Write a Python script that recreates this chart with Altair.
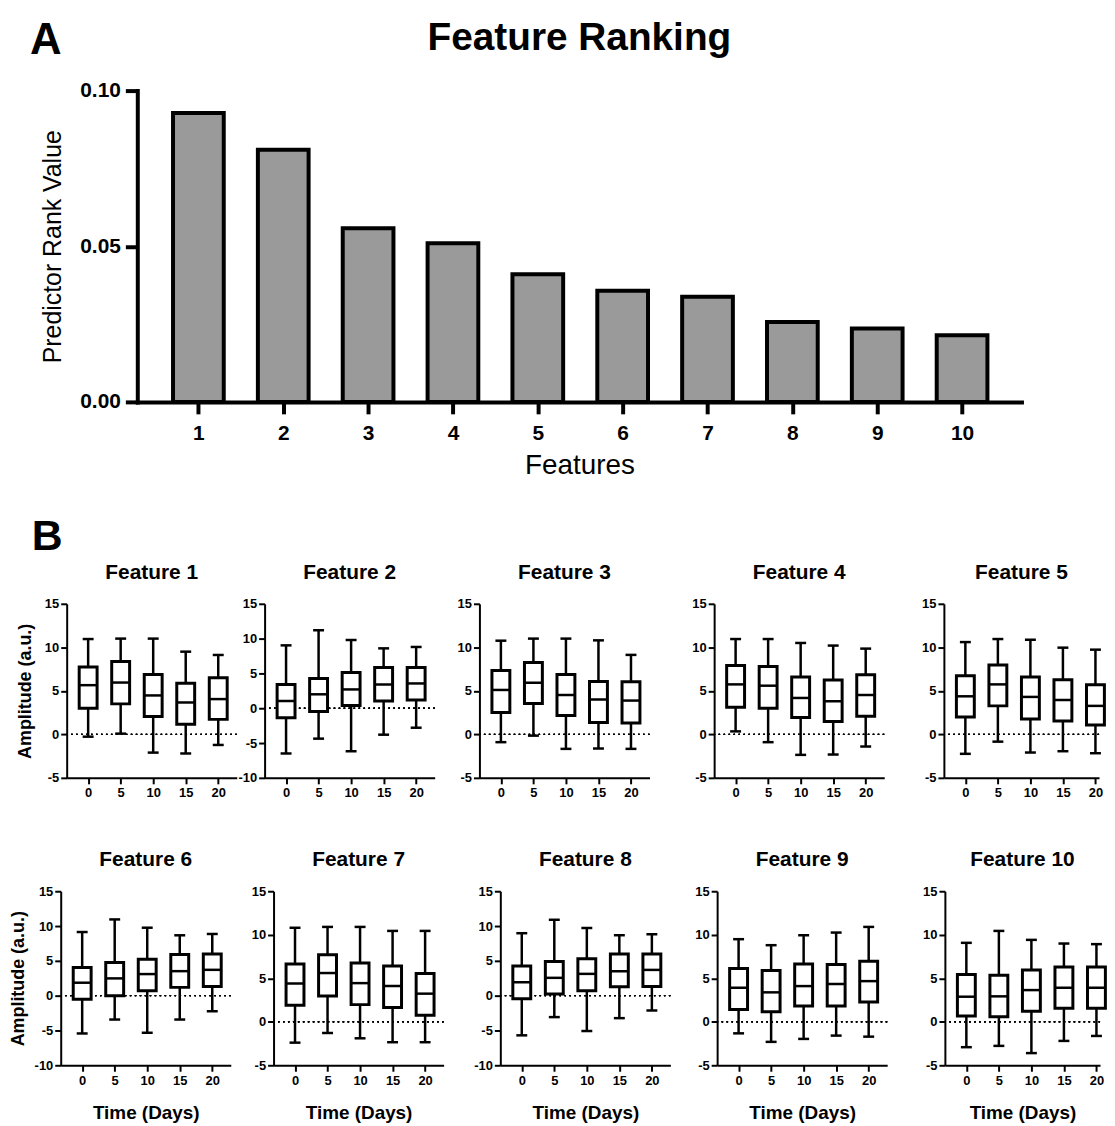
import altair as alt
import pandas as pd

FONT = "Liberation Sans"

# ---------------- Panel A data ----------------
FEATURES = [1, 2, 3, 4, 5, 6, 7, 8, 9, 10]
RANK_VALUES = [0.0928, 0.0810, 0.0558, 0.0510, 0.0410, 0.0357, 0.0338, 0.0257, 0.0236, 0.0214]
RANK_TICKS = [0.0, 0.05, 0.10]

# ---------------- Panel B data ----------------
DAYS = [0, 5, 10, 15, 20]
PANEL_TITLES = ["Feature 1", "Feature 2", "Feature 3", "Feature 4", "Feature 5",
                "Feature 6", "Feature 7", "Feature 8", "Feature 9", "Feature 10"]
WHISKER_LOW = [
    [-0.27, 0.08, -2.10, -2.20, -1.22],
    [-6.50, -4.37, -6.18, -3.80, -2.80],
    [-0.90, -0.15, -1.67, -1.63, -1.67],
    [0.34, -0.90, -2.36, -2.32, -1.40],
    [-2.24, -0.84, -2.09, -1.94, -2.17],
    [-5.43, -3.43, -5.33, -3.43, -2.24],
    [-2.40, -1.29, -1.90, -2.35, -2.35],
    [-5.70, -3.08, -5.08, -3.23, -2.13],
    [-1.33, -2.31, -1.97, -1.59, -1.71],
    [-2.92, -2.77, -3.60, -2.20, -1.63],
]
Q1 = [
    [3.00, 3.50, 2.06, 1.15, 1.72],
    [-1.38, -0.48, 0.38, 1.05, 1.19],
    [2.50, 3.54, 2.17, 1.37, 1.29],
    [3.12, 3.00, 1.94, 1.48, 2.09],
    [1.98, 3.27, 1.75, 1.52, 1.06],
    [-0.52, 0.00, 0.71, 1.19, 1.33],
    [1.90, 2.96, 1.97, 1.63, 0.76],
    [-0.43, 0.24, 0.71, 1.28, 1.33],
    [1.40, 1.14, 1.82, 1.82, 2.28],
    [0.65, 0.57, 1.21, 1.56, 1.56],
]
MEDIAN = [
    [5.65, 5.95, 4.47, 3.66, 4.05],
    [1.05, 2.00, 2.70, 3.42, 3.56],
    [5.10, 5.93, 4.52, 4.00, 3.88],
    [5.74, 5.59, 4.18, 3.80, 4.52],
    [4.37, 5.74, 4.30, 3.95, 3.27],
    [1.86, 2.48, 3.10, 3.52, 3.71],
    [4.40, 5.60, 4.44, 4.10, 3.23],
    [1.94, 2.56, 3.13, 3.51, 3.70],
    [3.91, 3.38, 4.10, 4.33, 4.67],
    [2.88, 2.92, 3.64, 3.91, 3.91],
]
Q3 = [
    [7.75, 8.36, 6.87, 5.88, 6.50],
    [3.42, 4.28, 5.13, 5.85, 5.85],
    [7.34, 8.25, 6.88, 6.08, 6.05],
    [7.90, 7.80, 6.60, 6.24, 6.84],
    [6.73, 7.98, 6.58, 6.27, 5.70],
    [4.05, 4.76, 5.24, 5.90, 6.00],
    [6.64, 7.70, 6.76, 6.41, 5.54],
    [4.27, 4.89, 5.31, 5.98, 5.98],
    [6.11, 5.88, 6.64, 6.57, 6.95],
    [5.43, 5.35, 5.96, 6.30, 6.30],
]
WHISKER_HIGH = [
    [10.95, 11.00, 11.00, 9.50, 9.12],
    [9.03, 11.20, 9.80, 8.60, 8.80],
    [10.76, 11.00, 11.00, 10.80, 9.13],
    [10.95, 10.95, 10.50, 10.20, 9.85],
    [10.60, 10.95, 10.87, 9.96, 9.73],
    [9.14, 10.95, 9.76, 8.67, 8.86],
    [10.80, 10.90, 10.90, 10.44, 10.44],
    [8.97, 10.90, 9.72, 8.68, 8.82],
    [9.49, 8.80, 9.94, 10.25, 10.90],
    [9.07, 10.44, 9.41, 8.99, 8.92],
]
Y_MIN = [-5, -10, -5, -5, -5, -10, -5, -10, -5, -5]
Y_MAX = 15

# ---------------- layout constants ----------------
PX_PER_DAY = 6.54
X_START = -3.3
PANEL_W = 171
LAST_W = 156
PANEL_H = 175
MIN_EXTENT = [23, 25, 44, 64, 59, 27, 42, 56, 46, 57]
TITLE_PAD = [9, 0, 0, 0, 0, 6, 0, 0, 0, 0]
ROW_SPACER_W = [9, 2]


def spacer(width, top=0):
    return alt.Chart(pd.DataFrame({"s": [0]})).mark_rule(opacity=0, strokeOpacity=0).encode(
        x=alt.value(0), y=alt.value(-top), y2=alt.value(-top + 1)
    ).properties(width=width, height=1)


def box_panel(idx):
    row = idx // 5
    first = idx % 5 == 0
    last = idx % 5 == 4
    width = LAST_W if last else PANEL_W
    ymin = Y_MIN[idx]
    df = pd.DataFrame({
        "day": DAYS,
        "lo": WHISKER_LOW[idx],
        "q1": Q1[idx],
        "med": MEDIAN[idx],
        "q3": Q3[idx],
        "hi": WHISKER_HIGH[idx],
    })
    xscale = alt.Scale(domain=[X_START, X_START + width / PX_PER_DAY], nice=False,
                       zero=False, padding=0)
    yscale = alt.Scale(domain=[ymin, Y_MAX], nice=False, zero=False, padding=0)

    xaxis_kw = dict(values=DAYS, grid=False, domainColor="black", domainWidth=2,
                    tickColor="black", tickWidth=2, tickSize=6,
                    labelFont=FONT, labelFontSize=13, labelFontWeight="bold",
                    labelColor="black", labelPadding=3, labelFlush=False,
                    labelOverlap=False, labelExpr="'' + datum.value")
    if row == 1:
        xaxis_kw.update(title="Time (Days)", titleFont=FONT, titleFontSize=19,
                        titleFontWeight="bold", titleColor="black", titlePadding=17)
    else:
        xaxis_kw.update(title=None)
    yaxis_kw = dict(values=list(range(ymin, Y_MAX + 1, 5)), grid=False,
                    domainColor="black", domainWidth=2, tickColor="black",
                    tickWidth=2, tickSize=6, labelFont=FONT, labelFontSize=13,
                    labelFontWeight="bold", labelColor="black", labelPadding=2,
                    labelFlush=False, labelOverlap=False,
                    labelExpr="'' + datum.value", minExtent=MIN_EXTENT[idx])
    if first:
        yaxis_kw.update(title="Amplitude (a.u.)", titleFont=FONT, titleFontSize=18,
                        titleFontWeight="bold", titleColor="black",
                        titlePadding=TITLE_PAD[idx])
    else:
        yaxis_kw.update(title=None)
    xaxis = alt.Axis(**xaxis_kw)
    yaxis = alt.Axis(**yaxis_kw)

    def X():
        return alt.X("day:Q", scale=xscale, axis=xaxis)

    def Y(field):
        return alt.Y(f"{field}:Q", scale=yscale, axis=yaxis)

    base = alt.Chart(df)
    zero = base.mark_rule(color="black", strokeWidth=1.4, strokeDash=[1.5, 3.5]).encode(
        y=alt.YDatum(0, scale=yscale, axis=yaxis)
    )
    whisk = base.mark_rule(color="black", strokeWidth=2.5).encode(x=X(), y=Y("lo"), y2="hi:Q")
    box = base.mark_bar(size=18, fill="white", stroke="black", strokeWidth=3, opacity=1).encode(
        x=X(), y=Y("q1"), y2="q3:Q")
    med = base.mark_tick(orient="horizontal", size=18, thickness=2.5, color="black", opacity=1).encode(
        x=X(), y=Y("med"))
    cap_lo = base.mark_tick(orient="horizontal", size=11, thickness=2.5, color="black", opacity=1).encode(
        x=X(), y=Y("lo"))
    cap_hi = base.mark_tick(orient="horizontal", size=11, thickness=2.5, color="black", opacity=1).encode(
        x=X(), y=Y("hi"))
    return alt.layer(zero, whisk, box, med, cap_lo, cap_hi).properties(
        width=width, height=PANEL_H,
        title=alt.TitleParams(PANEL_TITLES[idx], font=FONT, fontSize=21, fontWeight="bold",
                              color="black", baseline="alphabetic", offset=-2),
    )


# ---------------- Panel A ----------------
TOP_W, TOP_H = 889, 313
top_df = pd.DataFrame({"feature": FEATURES, "value": RANK_VALUES})
top_x = alt.X("feature:Q",
              scale=alt.Scale(domain=[0.28, 10.70], nice=False, zero=False, padding=0),
              axis=alt.Axis(values=FEATURES, title="Features", grid=False,
                            domainColor="black", domainWidth=4, domainCap="square",
                            tickColor="black", tickWidth=4, tickSize=12,
                            labelFont=FONT, labelFontSize=21, labelFontWeight="bold",
                            labelColor="black", labelPadding=9, labelFlush=False,
                            titleFont=FONT, titleFontSize=28, titleFontWeight="normal",
                            titleColor="black", titlePadding=8))
top_y = alt.Y("value:Q",
              scale=alt.Scale(domain=[0, 0.10], nice=False, zero=True, padding=0),
              axis=alt.Axis(values=RANK_TICKS, format=".2f", title="Predictor Rank Value",
                            grid=False, domainColor="black", domainWidth=4, domainCap="square",
                            tickColor="black", tickWidth=4, tickSize=12,
                            labelFont=FONT, labelFontSize=21, labelFontWeight="bold",
                            labelColor="black", labelPadding=5, labelFlush=False,
                            titleFont=FONT, titleFontSize=25, titleFontWeight="normal",
                            titleColor="black", titlePadding=14))
bars = alt.Chart(top_df).mark_bar(size=51, fill="#9a9a9a", stroke="black", strokeWidth=4).encode(
    x=top_x, y=top_y)

label_df = pd.DataFrame({"t": ["A"]})
letter_a = alt.Chart(label_df).mark_text(
    font=FONT, fontSize=44, fontWeight="bold", color="black", align="left",
    baseline="alphabetic").encode(x=alt.value(-108), y=alt.value(-37), text="t:N")
title_df = pd.DataFrame({"t": ["Feature Ranking"]})
top_title = alt.Chart(title_df).mark_text(
    font=FONT, fontSize=39, fontWeight="bold", color="black", align="center",
    baseline="alphabetic").encode(x=alt.value(TOP_W / 2), y=alt.value(-41), text="t:N")

top = alt.layer(bars, letter_a, top_title).properties(width=TOP_W, height=TOP_H)
top_row = alt.hconcat(spacer(22, top=80), top, spacing=0)

row1 = alt.hconcat(spacer(ROW_SPACER_W[0]), *[box_panel(i) for i in range(5)], spacing=0,
                   title=alt.TitleParams("B", anchor="start", font=FONT, fontSize=43,
                                         fontWeight="bold", color="black", dx=24,
                                         offset=-31, baseline="alphabetic"))
row2 = alt.hconcat(spacer(ROW_SPACER_W[1]), *[box_panel(i) for i in range(5, 10)], spacing=0)
rows = alt.vconcat(row1, row2, spacing=50)

chart = alt.vconcat(top_row, rows, spacing=37).properties(padding=0).configure(
    background="white").configure_view(stroke=None)

chart.save("out.html", embed_options={"renderer": "svg", "actions": False})
